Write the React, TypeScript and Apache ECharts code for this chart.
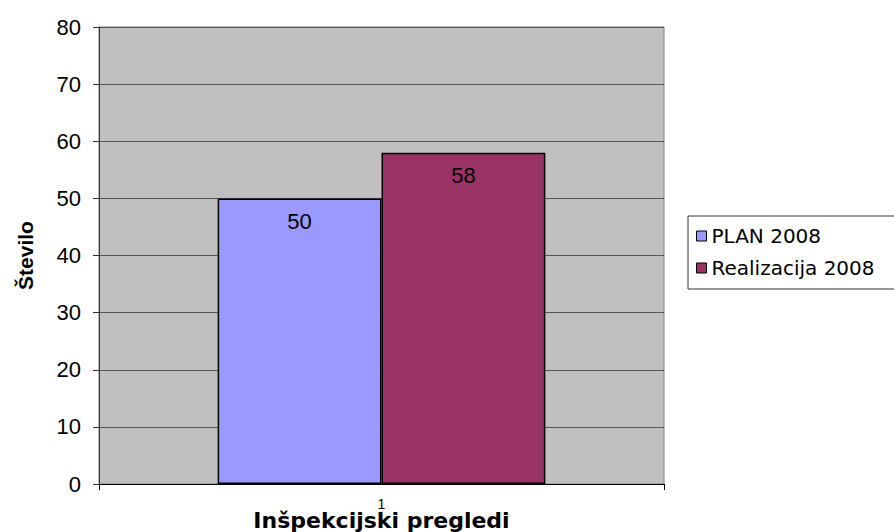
import React, { useEffect, useRef } from "react";
import * as echarts from "echarts";

const categories = ["1"];
const planValues = [50];
const realValues = [58];
const seriesNames = ["PLAN 2008", "Realizacija 2008"];
const yTicks = { min: 0, max: 80, interval: 10 };

export default function App() {
  const ref = useRef<HTMLDivElement>(null);
  useEffect(() => {
    if (!ref.current) return;
    const chart = echarts.init(ref.current, undefined, { renderer: "svg" });
    const font = "Liberation Sans, Arial, sans-serif";
    const wide = "DejaVu Sans, sans-serif";
    chart.setOption({
      animation: false,
      textStyle: { fontFamily: font },
      grid: {
        left: 99,
        top: 27,
        width: 565,
        height: 457,
        outerBoundsMode: "none",
        containLabel: false,
        show: true,
        backgroundColor: "#C0C0C0",
        borderColor: "#808080",
        borderWidth: 1,
      },
      legend: {
        orient: "vertical",
        left: 688,
        top: 216,
        itemWidth: 10,
        itemHeight: 10,
        itemGap: 12,
        itemTextGap: 6,
        padding: [10, 40, 11, 8],
        borderColor: "#333",
        borderWidth: 1,
        backgroundColor: "#fff",
        textStyle: { fontSize: 20, color: "#000", fontFamily: wide },
        itemStyle: { borderColor: "#000", borderWidth: 1 },
        data: seriesNames.map((n) => ({ name: n, icon: "rect" })),
      },
      xAxis: {
        type: "category",
        data: categories,
        name: "Inšpekcijski pregledi",
        nameLocation: "middle",
        nameGap: 25,
        nameMoveOverlap: false,
        nameTextStyle: { fontSize: 22, fontWeight: "bold", color: "#000", fontFamily: wide },
        axisLine: { lineStyle: { color: "#000" } },
        axisTick: { show: true, alignWithLabel: false, length: 6, lineStyle: { color: "#000" } },
        axisLabel: { fontSize: 14, color: "#000", margin: 13 },
      },
      yAxis: {
        type: "value",
        min: yTicks.min,
        max: yTicks.max,
        interval: yTicks.interval,
        name: "Število",
        nameLocation: "middle",
        nameGap: 63,
        nameMoveOverlap: false,
        nameRotate: 90,
        nameTextStyle: { fontSize: 21, fontWeight: "bold", color: "#000" },
        axisLine: { show: true, lineStyle: { color: "#333" } },
        axisTick: { show: true, length: 6, lineStyle: { color: "#333" } },
        axisLabel: { fontSize: 22, color: "#000", margin: 18 },
        splitLine: { lineStyle: { color: "#555" } },
      },
      series: [
        {
          name: seriesNames[0],
          type: "bar",
          data: planValues,
          barGap: "0%",
          barCategoryGap: "42%",
          itemStyle: { color: "#9999FF", borderColor: "#000", borderWidth: 1.5 },
          label: { show: true, position: "insideTop", distance: 12, fontSize: 22, color: "#000" },
        },
        {
          name: seriesNames[1],
          type: "bar",
          data: realValues,
          barGap: "0%",
          barCategoryGap: "42%",
          itemStyle: { color: "#993366", borderColor: "#000", borderWidth: 1.5 },
          label: { show: true, position: "insideTop", distance: 12, fontSize: 22, color: "#000" },
        },
      ],
    });
    return () => chart.dispose();
  }, []);
  return (
    <div
      ref={ref}
      style={{ position: "absolute", left: 0, top: 0, width: 894, height: 532 }}
    />
  );
}
